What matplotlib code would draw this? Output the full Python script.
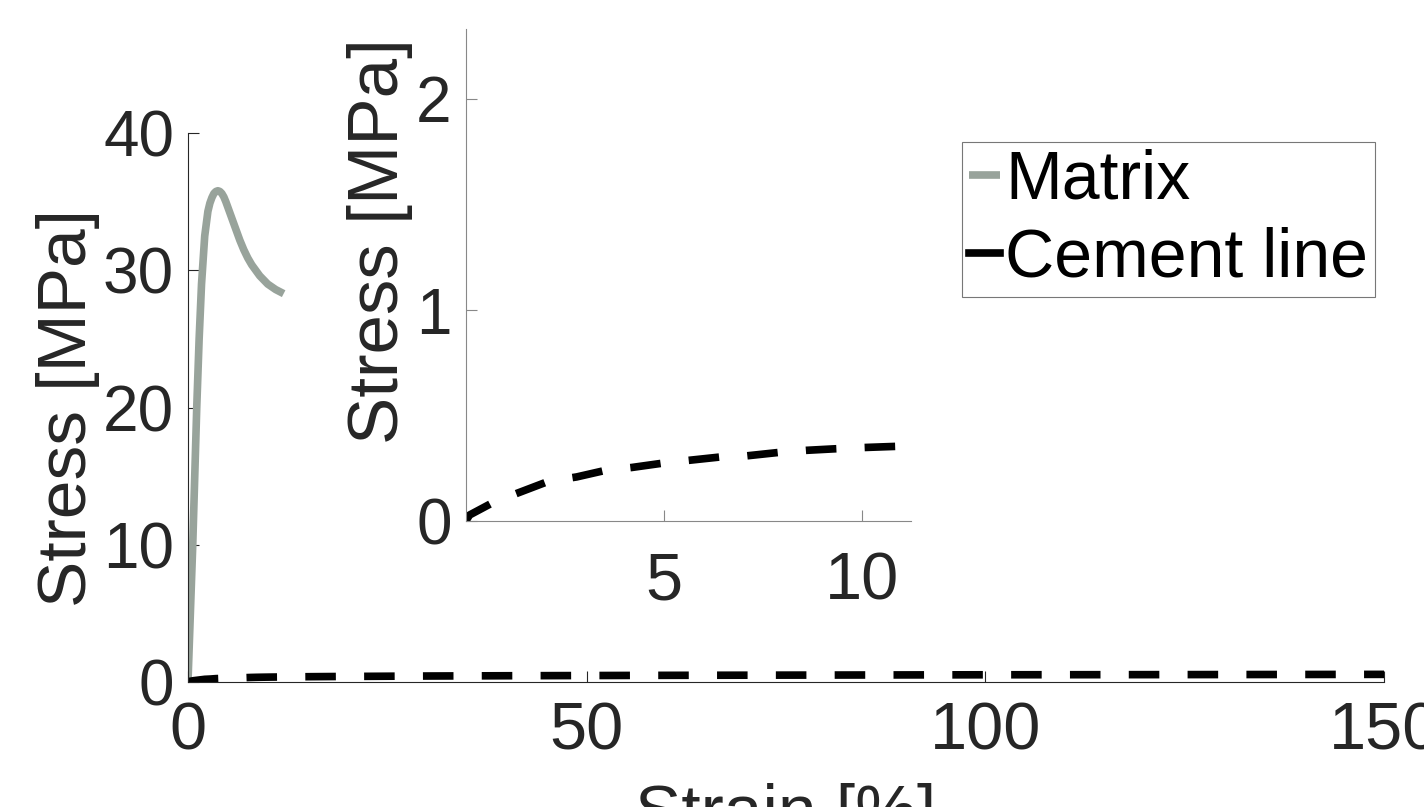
import matplotlib
matplotlib.use('Agg')
import matplotlib.pyplot as plt

plt.rcParams['font.family'] = ['Liberation Sans', 'DejaVu Sans']

# values
matrix_strain = [0, 0.3, 0.6, 0.85, 1.1, 1.4, 1.7, 2.1, 2.5, 2.75, 3.0, 3.25, 3.5, 3.75, 4.0, 4.25, 4.5, 4.75, 5.0, 5.5, 6.0,
                 6.5, 7.0, 7.5, 8.0, 9.0, 10.0, 11.0, 12.0]
matrix_stress = [0, 5, 10, 15, 20, 25, 29, 32.5, 34.3, 34.9, 35.3, 35.6, 35.75, 35.8, 35.75, 35.6, 35.35, 35.0, 34.6, 33.8, 33.0,
                 32.2, 31.5, 30.9, 30.4, 29.6, 29.0, 28.6, 28.3]

cement_strain = [0, 0.1, 0.7, 1.4, 2.1, 2.8, 3.5, 4.2, 5.0, 5.7, 6.4, 7.1, 7.9, 8.6, 9.3, 10.0, 10.75,
                 15, 20, 30, 40, 60, 80, 100, 120, 150]
cement_stress = [0, 0.03, 0.09, 0.14, 0.19, 0.21, 0.24, 0.255, 0.276, 0.29, 0.304, 0.31, 0.326, 0.336, 0.343, 0.349, 0.354,
                 0.38, 0.40, 0.43, 0.45, 0.48, 0.50, 0.52, 0.53, 0.55]

main_xticks = [0, 50, 100, 150]
main_yticks = [0, 10, 20, 30, 40]
inset_xticks = [5, 10]
inset_yticks = [0, 1, 2]

grey = '#98a39b'
axcol = '#262626'
fs = 46

fig = plt.figure(figsize=(14.24, 8.07), dpi=100)
ax = fig.add_axes([0.132, 0.155, 0.840, 0.680])
ax.plot(matrix_strain, matrix_stress, color=grey, lw=5.5, label='Matrix', solid_capstyle='butt', solid_joinstyle='round')
ax.plot(cement_strain, cement_stress, color='black', lw=5.5, label='Cement line', dashes=(4.0, 3.7))
ax.set_xlim(0, 150)
ax.set_ylim(0, 40)
ax.set_xticks(main_xticks)
ax.set_yticks(main_yticks)
for s in ['top', 'right']:
    ax.spines[s].set_visible(False)
for s in ['left', 'bottom']:
    ax.spines[s].set_color(axcol)
    ax.spines[s].set_linewidth(0.8)
ax.tick_params(direction='in', length=8, width=0.8, colors=axcol, labelsize=fs, pad=10)
ax.tick_params(axis='x', pad=14, labelsize=48)
ax.set_ylabel('Stress [MPa]', fontsize=50, color=axcol, labelpad=2)
ax.set_xlabel('Strain [%]', fontsize=50, color=axcol, labelpad=14)

leg = ax.legend(loc='upper right', bbox_to_anchor=(0.9656, 0.824), bbox_transform=fig.transFigure,
                fontsize=49, frameon=True, fancybox=False, handlelength=0.45, handletextpad=0.08,
                borderpad=0.1, labelspacing=0.2, borderaxespad=0)
leg.get_frame().set_edgecolor('#555555')
leg.get_frame().set_linewidth(0.8)
for h in leg.get_lines():
    h.set_linestyle('-')

# inset
ins = fig.add_axes([0.327, 0.354, 0.313, 0.610])
ins.plot(cement_strain, cement_stress, color='black', lw=5.5, dashes=(4.0, 3.7))
ins.set_xlim(0, 11.25)
ins.set_ylim(0, 2.33)
ins.set_xticks(inset_xticks)
ins.set_yticks(inset_yticks)
for s in ['top', 'right']:
    ins.spines[s].set_visible(False)
for s in ['left', 'bottom']:
    ins.spines[s].set_color('#888888')
    ins.spines[s].set_linewidth(0.8)
ins.tick_params(direction='in', length=8, width=0.8, colors='#888888', labelcolor=axcol, labelsize=fs, pad=10)
ins.tick_params(axis='x', pad=22, labelsize=48)
ins.set_ylabel('Stress [MPa]', fontsize=51, color=axcol)
ins.yaxis.set_label_coords(-0.118, 0.57)
ins.patch.set_alpha(0)

fig.savefig('out.png', dpi=100)
